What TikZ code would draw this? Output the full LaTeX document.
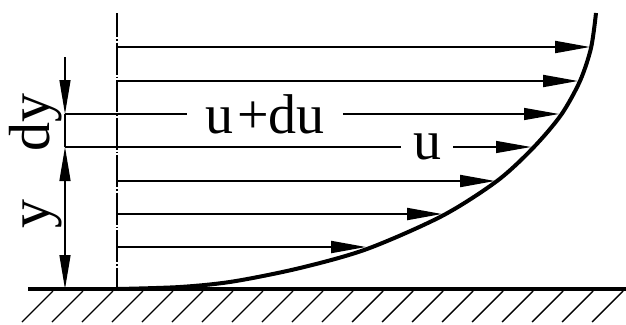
\documentclass[tikz,border=0pt]{standalone}
\usepackage{fontspec}
\setmainfont{Liberation Serif}
\usetikzlibrary{arrows.meta}
\tikzset{
  flecha/.style   = {-{Triangle[length=35pt,width=12pt]}, line width=2pt},
  fina/.style     = {line width=1.3pt},
  cota/.style     = {line width=1.3pt},
  puntacota/.style= {-{Triangle[length=34pt,width=11pt]}},
  eje/.style      = {line width=1.8pt, dash pattern=on 32pt off 2pt on 1.5pt off 2pt,
                     dash phase=8pt},
  suelo/.style    = {line width=4pt},
  rayado/.style   = {line width=1.4pt},
  perfil/.style   = {line width=4pt, line join=round},
  etiqueta/.style = {font=\fontsize{56}{60}\selectfont, inner ysep=0pt},
  etiquetav/.style= {font=\fontsize{58}{60}\selectfont, rotate=90, anchor=base, inner sep=0pt},
}
\begin{document}
\begin{tikzpicture}[x=1pt,y=-1pt]
  \useasboundingbox (0,0) rectangle (626,324);

  % Suelo
  \foreach \k in {0,...,19}
    \draw[rayado] ({53+30*\k},291) -- ++(-31,31);
  \coordinate (s0) at (28,289);
  \coordinate (s1) at (626,289);
  \draw[suelo] (s0) -- (s1);

  % Pared (eje)
  \coordinate (p0) at (117,13);
  \coordinate (p1) at (117,289);
  \draw[eje] (p0) -- (p1);

  % Perfil de velocidad
  \draw[perfil] plot[smooth, tension=0.5] coordinates {
    (118,289) (180,287) (233,281.5) (300,268) (367,249) (442,216)
    (497,181) (533,148) (561,115) (580,81) (591,48) (596,13)};

  % Flechas de velocidad
  \foreach \y/\x [count=\i] in {47/590, 81/578, 181/495, 214/442, 247/366} {
    \coordinate (w\i) at (118,\y);
    \coordinate (t\i) at (\x,\y);
    \draw[flecha] (w\i) -- (t\i);
  }

  % u+du y u
  \coordinate (c0) at (65,57);
  \coordinate (c1) at (65,114);
  \coordinate (c2) at (65,147);
  \coordinate (c3) at (65,289);
  \coordinate (tdu) at (559,114);
  \coordinate (tu) at (531,147);
  \node[etiqueta, inner xsep=18pt] (udu) at (265,114) {u\kern4pt+du};
  \node[etiqueta, inner xsep=12pt] (u) at (427,147) {u};
  \draw[fina] (c1) -- (udu.west);
  \draw[flecha, line width=1.3pt] (udu.east) -- (tdu);
  \draw[fina] (c2) -- (u.west);
  \draw[flecha, line width=1.3pt] (u.east) -- (tu);

  % Cotas dy, y
  \draw[cota, puntacota] (c0) -- (c1);
  \draw[cota] (c1) -- (c2);
  \draw[cota, {Triangle[length=34pt,width=11pt]}-{Triangle[length=34pt,width=11pt]}] (c2) -- (c3);
  \node[etiquetav] (ldy) at (49,122) {dy};
  \node[etiquetav] (ly) at (49,214) {y};
\end{tikzpicture}
\end{document}
